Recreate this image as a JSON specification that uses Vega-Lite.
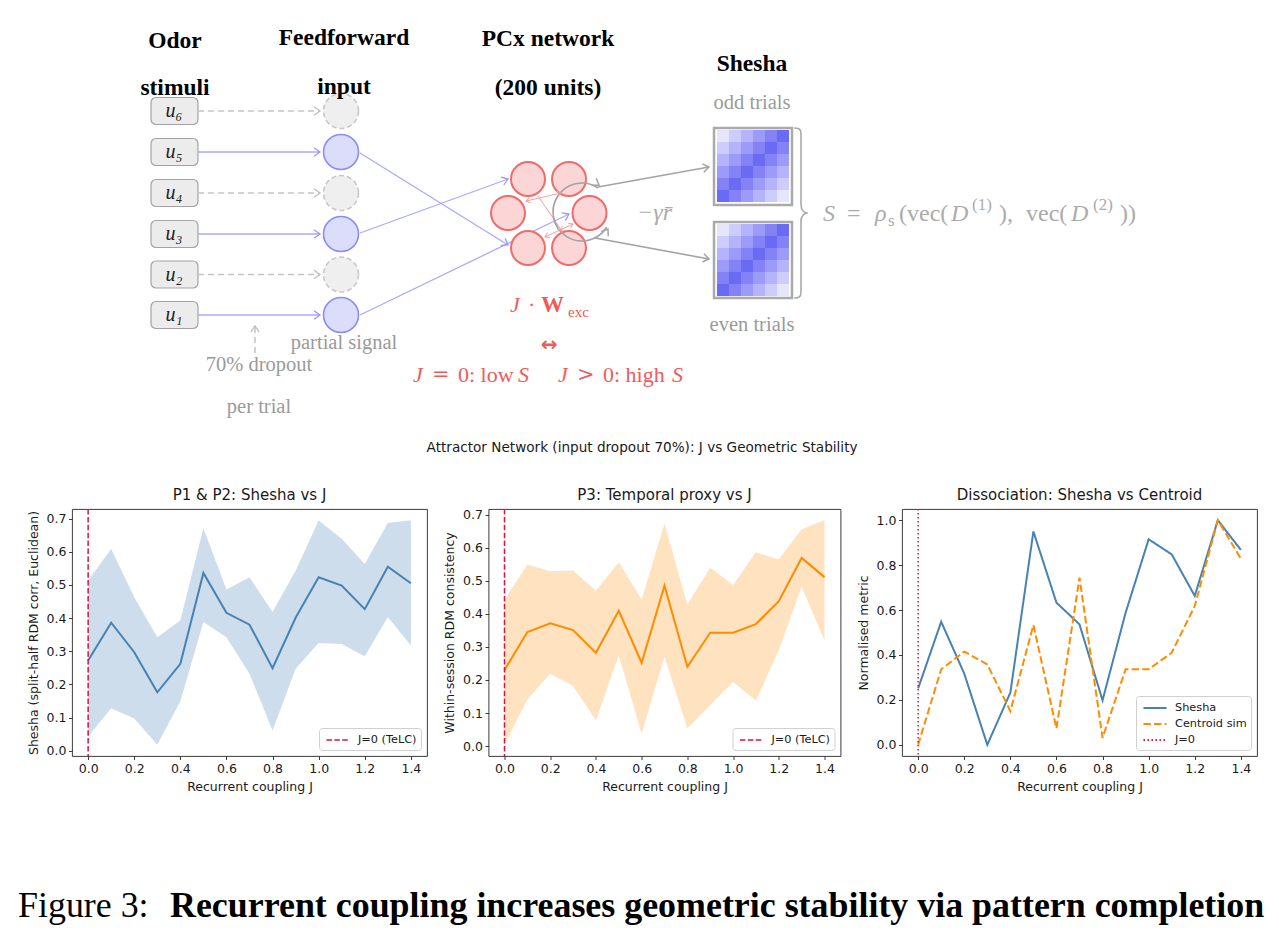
{
"$schema": "https://vega.github.io/schema/vega-lite/v6.json",
"background": "white",
"padding": {"left": 18, "right": 0, "top": 0, "bottom": 0},
"spacing": 0,
"config": {
 "view": {"stroke": "#262626", "strokeWidth": 0.9},
 "axis": {"domain": false, "grid": false, "tickColor": "#262626", "tickSize": 3.5, "tickWidth": 0.9, "labelFont": "DejaVu Sans", "labelFontSize": 12.5, "labelColor": "#1a1a1a", "labelPadding": 2.5, "titleFont": "DejaVu Sans", "titleFontSize": 12.5, "titleFontWeight": "normal", "titleColor": "#1a1a1a"},
 "title": {"font": "DejaVu Sans", "fontSize": 15, "fontWeight": "normal", "color": "#1a1a1a", "offset": 5},
 "legend": {"orient": "bottom-right", "offset": 6, "padding": 4, "fillColor": "white", "strokeColor": "#d0d0d0", "cornerRadius": 3, "symbolType": "M-1.65,0L1.65,0", "symbolSize": 196, "symbolOffset": 7, "symbolStrokeWidth": 2, "labelFont": "DejaVu Sans", "labelFontSize": 11.3, "labelColor": "#1a1a1a", "rowPadding": 2, "labelOffset": 12}
},
"vconcat": [
{
 "width": 1193, "height": 441,
 "view": {"stroke": null},
 "encoding": {
  "x": {"field": "x", "type": "quantitative", "scale": {"domain": [72, 1265], "nice": false, "zero": false}, "axis": null},
  "y": {"field": "y", "type": "quantitative", "scale": {"domain": [0, 441], "nice": false, "zero": false, "reverse": true}, "axis": null}
 },
 "layer": [
  {"data": {"values": [
    {"x": 151, "x2": 198, "y": 97.5, "y2": 124.5},
    {"x": 151, "x2": 198, "y": 138.5, "y2": 165.5},
    {"x": 151, "x2": 198, "y": 179.5, "y2": 206.5},
    {"x": 151, "x2": 198, "y": 220.5, "y2": 247.5},
    {"x": 151, "x2": 198, "y": 261, "y2": 288},
    {"x": 151, "x2": 198, "y": 301.5, "y2": 328.5}]},
   "mark": {"type": "rect", "cornerRadius": 5, "fill": "#ececec", "stroke": "#a3a3a3", "strokeWidth": 1.2},
   "encoding": {"x2": {"field": "x2"}, "y2": {"field": "y2"}}},
  {"data": {"values": [
    {"x": 198, "y": 111, "x2": 320, "y2": 111},
    {"x": 198, "y": 193, "x2": 320, "y2": 193},
    {"x": 198, "y": 274.5, "x2": 320, "y2": 274.5},
    {"x": 255, "y": 353, "x2": 255, "y2": 327}]},
   "mark": {"type": "rule", "color": "#c4c4c4", "strokeWidth": 1.5, "strokeDash": [6, 4]},
   "encoding": {"x2": {"field": "x2"}, "y2": {"field": "y2"}}},
  {"data": {"values": [
    {"x": 198, "y": 152, "x2": 320, "y2": 152},
    {"x": 198, "y": 234, "x2": 320, "y2": 234},
    {"x": 198, "y": 315, "x2": 320, "y2": 315},
    {"x": 360, "y": 153, "x2": 508, "y2": 245},
    {"x": 360, "y": 233, "x2": 508, "y2": 179},
    {"x": 360, "y": 315, "x2": 569, "y2": 214}]},
   "mark": {"type": "rule", "color": "#aaaaf8", "strokeWidth": 1.3},
   "encoding": {"x2": {"field": "x2"}, "y2": {"field": "y2"}}},
  {"data": {"values": [
    {"x": 598, "y": 187, "x2": 709, "y2": 167},
    {"x": 595, "y": 238, "x2": 709, "y2": 259}]},
   "mark": {"type": "rule", "color": "#a3a3a3", "strokeWidth": 1.6},
   "encoding": {"x2": {"field": "x2"}, "y2": {"field": "y2"}}},
  {"data": {"values": [
    {"x": 341, "y": 111}, {"x": 341, "y": 193}, {"x": 341, "y": 274.5}]},
   "mark": {"type": "point", "shape": "circle", "size": 1225, "filled": true, "fill": "#efefef", "stroke": "#c8c8c8", "strokeWidth": 1.6, "strokeDash": [5, 3], "opacity": 1}},
  {"data": {"values": [
    {"x": 341, "y": 152}, {"x": 341, "y": 234}, {"x": 341, "y": 315}]},
   "mark": {"type": "point", "shape": "circle", "size": 1225, "filled": true, "fill": "#dcdcfb", "stroke": "#8c8cf5", "strokeWidth": 1.6, "opacity": 1}},
  {"data": {"values": [
    {"x": 528, "y": 179}, {"x": 569, "y": 179}, {"x": 508, "y": 213},
    {"x": 589.5, "y": 213}, {"x": 528, "y": 248}, {"x": 569, "y": 248}]},
   "mark": {"type": "point", "shape": "circle", "size": 1156, "filled": true, "fill": "#fcd6d6", "stroke": "#f26b6b", "strokeWidth": 2, "opacity": 1}},
  {"data": {"values": [
    {"x": 526, "y": 201, "x2": 561, "y2": 193},
    {"x": 538, "y": 196, "x2": 562, "y2": 231},
    {"x": 545, "y": 237, "x2": 573, "y2": 224}]},
   "mark": {"type": "rule", "color": "#f3a0a0", "strokeWidth": 1},
   "encoding": {"x2": {"field": "x2"}, "y2": {"field": "y2"}}},
  {"data": {"values": [{"x": 582, "y": 212, "t0": 2.147, "t1": 6.842}]},
   "mark": {"type": "arc", "radius": 29, "radius2": 28.9, "filled": false, "color": "#a3a3a3", "strokeWidth": 1.6},
   "encoding": {"theta": {"field": "t0", "type": "quantitative", "scale": null}, "theta2": {"field": "t1"}}},
  {"data": {"values": [
    {"x": 320, "y": 152, "a": 0}, {"x": 320, "y": 234, "a": 0}, {"x": 320, "y": 315, "a": 0},
    {"x": 508, "y": 245, "a": 31.9}, {"x": 508, "y": 179, "a": -20}, {"x": 569, "y": 214, "a": -25.8}]},
   "mark": {"type": "point", "shape": "M-1,-0.7L0,0L-1,0.7", "size": 144, "filled": false, "stroke": "#9a9af5", "strokeWidth": 1.3, "opacity": 1},
   "encoding": {"angle": {"field": "a", "type": "quantitative", "scale": null}}},
  {"data": {"values": [
    {"x": 320, "y": 111, "a": 0}, {"x": 320, "y": 193, "a": 0}, {"x": 320, "y": 274.5, "a": 0}, {"x": 255, "y": 326, "a": -90}]},
   "mark": {"type": "point", "shape": "M-1,-0.7L0,0L-1,0.7", "size": 144, "filled": false, "stroke": "#bdbdbd", "strokeWidth": 1.3, "opacity": 1},
   "encoding": {"angle": {"field": "a", "type": "quantitative", "scale": null}}},
  {"data": {"values": [
    {"x": 709, "y": 167, "a": -10.2}, {"x": 709, "y": 259, "a": 10.4}, {"x": 599, "y": 185, "a": 32}, {"x": 608, "y": 229, "a": -57}]},
   "mark": {"type": "point", "shape": "M-1,-0.7L0,0L-1,0.7", "size": 144, "filled": false, "stroke": "#a3a3a3", "strokeWidth": 1.5, "opacity": 1},
   "encoding": {"angle": {"field": "a", "type": "quantitative", "scale": null}}},
  {"data": {"values": [
    {"x": 561, "y": 193, "a": -12.9}, {"x": 526, "y": 201, "a": 167.1}, {"x": 562, "y": 231, "a": 55.6}, {"x": 573, "y": 224, "a": -24.9}, {"x": 545, "y": 237, "a": 155.1}]},
   "mark": {"type": "point", "shape": "M-1,-0.7L0,0L-1,0.7", "size": 64, "filled": false, "stroke": "#f3a0a0", "strokeWidth": 1, "opacity": 1},
   "encoding": {"angle": {"field": "a", "type": "quantitative", "scale": null}}},
  {"data": {"values": [
    {"x": 714, "x2": 792, "y": 128, "y2": 205},
    {"x": 714, "x2": 792, "y": 222, "y2": 298}]},
   "mark": {"type": "rect", "filled": false, "stroke": "#aaaaaa", "strokeWidth": 2.5},
   "encoding": {"x2": {"field": "x2"}, "y2": {"field": "y2"}}},
  {"data": {"name": "cells"},
   "mark": {"type": "point", "shape": "square", "size": 146, "filled": true, "strokeWidth": 0, "opacity": 1},
   "encoding": {"y": {"field": "yo", "type": "quantitative", "scale": {"domain": [0, 441], "nice": false, "zero": false, "reverse": true}, "axis": null},
     "color": {"field": "v", "type": "quantitative", "scale": {"domain": [0, 5], "range": ["#e6e6fb", "#6a6af2"]}, "legend": null}}},
  {"data": {"name": "cells"},
   "mark": {"type": "point", "shape": "square", "size": 146, "filled": true, "strokeWidth": 0, "opacity": 1},
   "encoding": {"y": {"field": "ye", "type": "quantitative", "scale": {"domain": [0, 441], "nice": false, "zero": false, "reverse": true}, "axis": null},
     "color": {"field": "v", "type": "quantitative", "scale": {"domain": [0, 5], "range": ["#e6e6fb", "#6a6af2"]}, "legend": null}}},
  {"data": {"values": [{"x": 801, "y": 213}]},
   "mark": {"type": "point", "shape": "M-0.08,-1C0,-1 0,-0.97 0,-0.9L0,-0.1C0,-0.03 0.04,0 0.08,0C0.04,0 0,0.03 0,0.1L0,0.9C0,0.97 0,1 -0.08,1", "size": 28900, "filled": false, "stroke": "#aaaaaa", "strokeWidth": 1.6, "opacity": 1}},
  {"data": {"values": [
    {"x": 175, "y": 41, "t": "Odor"}, {"x": 175, "y": 88, "t": "stimuli"},
    {"x": 344, "y": 38, "t": "Feedforward"}, {"x": 344, "y": 87, "t": "input"},
    {"x": 548, "y": 39, "t": "PCx network"}, {"x": 548, "y": 88, "t": "(200 units)"},
    {"x": 752, "y": 64, "t": "Shesha"}]},
   "mark": {"type": "text", "font": "Liberation Serif", "fontSize": 23.5, "fontWeight": "bold", "color": "#000000", "align": "center", "baseline": "middle"},
   "encoding": {"text": {"field": "t"}}},
  {"data": {"values": [
    {"x": 752, "y": 103, "t": "odd trials"}, {"x": 752, "y": 325, "t": "even trials"},
    {"x": 344, "y": 343, "t": "partial signal"}, {"x": 259, "y": 365, "t": "70% dropout"},
    {"x": 259, "y": 407, "t": "per trial"}]},
   "mark": {"type": "text", "font": "Liberation Serif", "fontSize": 20.5, "color": "#9a9a9a", "align": "center", "baseline": "middle"},
   "encoding": {"text": {"field": "t"}}},
  {"data": {"values": [
    {"x": 174, "y": 111, "t": "u₆"}, {"x": 174, "y": 152, "t": "u₅"}, {"x": 174, "y": 193, "t": "u₄"},
    {"x": 174, "y": 234, "t": "u₃"}, {"x": 174, "y": 274.5, "t": "u₂"}, {"x": 174, "y": 315, "t": "u₁"}]},
   "mark": {"type": "text", "font": "Liberation Serif", "fontSize": 20, "fontStyle": "italic", "color": "#222222", "align": "center", "baseline": "middle"},
   "encoding": {"text": {"field": "t"}}},
  {"data": {"values": [
    {"x": 413, "y": 375, "t": "J"}, {"x": 518, "y": 375, "t": "S"}, {"x": 558, "y": 375, "t": "J"},
    {"x": 672, "y": 375, "t": "S"}, {"x": 510, "y": 305, "t": "J"}]},
   "mark": {"type": "text", "font": "Liberation Serif", "fontSize": 22, "fontStyle": "italic", "color": "#f05a5a", "align": "left", "baseline": "middle"},
   "encoding": {"text": {"field": "t"}}},
  {"data": {"values": [
    {"x": 458, "y": 375, "t": "0: low"},
    {"x": 603, "y": 375, "t": "0: high"},
    {"x": 528, "y": 305, "t": "·"}]},
   "mark": {"type": "text", "font": "Liberation Serif", "fontSize": 22, "color": "#f05a5a", "align": "left", "baseline": "middle"},
   "encoding": {"text": {"field": "t"}}},
  {"data": {"values": [
    {"x": 432, "y": 375, "t": "="}, {"x": 577, "y": 375, "t": ">"}]},
   "mark": {"type": "text", "font": "DejaVu Serif", "fontSize": 21, "color": "#f05a5a", "align": "left", "baseline": "middle"},
   "encoding": {"text": {"field": "t"}}},
  {"data": {"values": [{"x": 541, "y": 305, "t": "W"}]},
   "mark": {"type": "text", "font": "Liberation Serif", "fontSize": 23, "fontWeight": "bold", "color": "#f05a5a", "align": "left", "baseline": "middle"},
   "encoding": {"text": {"field": "t"}}},
  {"data": {"values": [{"x": 568, "y": 312, "t": "exc"}]},
   "mark": {"type": "text", "font": "Liberation Serif", "fontSize": 15, "color": "#f05a5a", "align": "left", "baseline": "middle"},
   "encoding": {"text": {"field": "t"}}},
  {"data": {"values": [{"x": 549, "y": 345, "t": "↔"}]},
   "mark": {"type": "text", "font": "DejaVu Sans", "fontSize": 20, "fontWeight": "bold", "color": "#f05a5a", "align": "center", "baseline": "middle"},
   "encoding": {"text": {"field": "t"}}},
  {"data": {"values": [
    {"x": 637, "y": 220, "t": "−γr̄"},
    {"x": 823, "y": 221, "t": "S"}, {"x": 875, "y": 221, "t": "ρ"},
    {"x": 951, "y": 221, "t": "D"}, {"x": 1071, "y": 221, "t": "D"}]},
   "mark": {"type": "text", "font": "Liberation Serif", "fontSize": 24, "fontStyle": "italic", "color": "#ababab", "align": "left", "baseline": "alphabetic"},
   "encoding": {"text": {"field": "t"}}},
  {"data": {"values": [
    {"x": 847, "y": 221, "t": "="}, {"x": 899, "y": 221, "t": "(vec("},
    {"x": 999, "y": 221, "t": "),"}, {"x": 1026, "y": 221, "t": "vec("},
    {"x": 1120, "y": 221, "t": "))"}]},
   "mark": {"type": "text", "font": "Liberation Serif", "fontSize": 24, "color": "#ababab", "align": "left", "baseline": "alphabetic"},
   "encoding": {"text": {"field": "t"}}},
  {"data": {"values": [
    {"x": 888, "y": 226, "t": "s"}, {"x": 972, "y": 210, "t": "(1)"}, {"x": 1093, "y": 210, "t": "(2)"}]},
   "mark": {"type": "text", "font": "Liberation Serif", "fontSize": 17, "color": "#ababab", "align": "left", "baseline": "alphabetic"},
   "encoding": {"text": {"field": "t"}}}
 ]
},
{
 "title": {"text": "Attractor Network (input dropout 70%): J vs Geometric Stability", "fontSize": 13.6, "fontWeight": "normal", "font": "DejaVu Sans", "color": "#1a1a1a", "anchor": "middle", "frame": "bounds", "offset": 33},
 "spacing": 14.5,
 "resolve": {"scale": {"color": "independent", "strokeDash": "independent"}, "legend": {"color": "independent", "strokeDash": "independent"}},
 "hconcat": [
  {
   "width": 355, "height": 247,
   "title": "P1 & P2: Shesha vs J",
   "data": {"values": [
    {"J": 0.0, "mean": 0.272, "lo": 0.043, "hi": 0.513},
    {"J": 0.1, "mean": 0.386, "lo": 0.128, "hi": 0.608},
    {"J": 0.2, "mean": 0.297, "lo": 0.097, "hi": 0.463},
    {"J": 0.3, "mean": 0.176, "lo": 0.018, "hi": 0.342},
    {"J": 0.4, "mean": 0.262, "lo": 0.149, "hi": 0.393},
    {"J": 0.5, "mean": 0.536, "lo": 0.388, "hi": 0.671},
    {"J": 0.6, "mean": 0.416, "lo": 0.342, "hi": 0.486},
    {"J": 0.7, "mean": 0.380, "lo": 0.232, "hi": 0.523},
    {"J": 0.8, "mean": 0.249, "lo": 0.061, "hi": 0.418},
    {"J": 0.9, "mean": 0.401, "lo": 0.247, "hi": 0.543},
    {"J": 1.0, "mean": 0.523, "lo": 0.325, "hi": 0.694},
    {"J": 1.1, "mean": 0.498, "lo": 0.322, "hi": 0.639},
    {"J": 1.2, "mean": 0.427, "lo": 0.285, "hi": 0.563},
    {"J": 1.3, "mean": 0.555, "lo": 0.403, "hi": 0.687},
    {"J": 1.4, "mean": 0.505, "lo": 0.317, "hi": 0.695}]},
   "encoding": {"x": {"field": "J", "type": "quantitative", "scale": {"domain": [-0.07, 1.47], "nice": false, "zero": false}, "axis": {"title": "Recurrent coupling J", "values": [0, 0.2, 0.4, 0.6, 0.8, 1.0, 1.2, 1.4], "format": ".1f", "titlePadding": 5.5}}},
   "layer": [
    {"mark": {"type": "area", "color": "#4682b4", "opacity": 0.27},
     "encoding": {"y": {"field": "lo", "type": "quantitative", "scale": {"domain": [-0.016, 0.729], "nice": false, "zero": false}, "axis": {"title": "Shesha (split-half RDM corr, Euclidean)", "values": [0, 0.1, 0.2, 0.3, 0.4, 0.5, 0.6, 0.7], "format": ".1f", "titlePadding": 6}}, "y2": {"field": "hi"}}},
    {"mark": {"type": "line", "color": "#4682b4", "strokeWidth": 2},
     "encoding": {"y": {"field": "mean", "type": "quantitative", "axis": {"title": "Shesha (split-half RDM corr, Euclidean)", "values": [0, 0.1, 0.2, 0.3, 0.4, 0.5, 0.6, 0.7], "format": ".1f", "titlePadding": 6}}}},
    {"data": {"values": [{"J": 0, "lab": "J=0 (TeLC)"}]},
     "mark": {"type": "rule", "strokeWidth": 1.5, "strokeDash": [5.5, 2.4]},
     "encoding": {"color": {"field": "lab", "type": "nominal", "scale": {"range": ["#dc143c"]}, "legend": {"title": null, "symbolDash": [5.5, 2.4], "symbolStrokeWidth": 1.5}}}}
   ]
  },
  {
   "width": 352, "height": 247,
   "title": "P3: Temporal proxy vs J",
   "data": {"values": [
    {"J": 0.0, "mean": 0.230, "lo": 0.004, "hi": 0.442},
    {"J": 0.1, "mean": 0.345, "lo": 0.141, "hi": 0.549},
    {"J": 0.2, "mean": 0.371, "lo": 0.219, "hi": 0.529},
    {"J": 0.3, "mean": 0.351, "lo": 0.182, "hi": 0.531},
    {"J": 0.4, "mean": 0.282, "lo": 0.077, "hi": 0.470},
    {"J": 0.5, "mean": 0.409, "lo": 0.275, "hi": 0.556},
    {"J": 0.6, "mean": 0.252, "lo": 0.037, "hi": 0.443},
    {"J": 0.7, "mean": 0.485, "lo": 0.271, "hi": 0.673},
    {"J": 0.8, "mean": 0.240, "lo": 0.053, "hi": 0.428},
    {"J": 0.9, "mean": 0.343, "lo": 0.124, "hi": 0.539},
    {"J": 1.0, "mean": 0.343, "lo": 0.194, "hi": 0.487},
    {"J": 1.1, "mean": 0.369, "lo": 0.138, "hi": 0.586},
    {"J": 1.2, "mean": 0.438, "lo": 0.290, "hi": 0.564},
    {"J": 1.3, "mean": 0.569, "lo": 0.482, "hi": 0.656},
    {"J": 1.4, "mean": 0.511, "lo": 0.320, "hi": 0.683}]},
   "encoding": {"x": {"field": "J", "type": "quantitative", "scale": {"domain": [-0.07, 1.47], "nice": false, "zero": false}, "axis": {"title": "Recurrent coupling J", "values": [0, 0.2, 0.4, 0.6, 0.8, 1.0, 1.2, 1.4], "format": ".1f", "titlePadding": 5.5}}},
   "layer": [
    {"mark": {"type": "area", "color": "#ff8c00", "opacity": 0.25},
     "encoding": {"y": {"field": "lo", "type": "quantitative", "scale": {"domain": [-0.03, 0.717], "nice": false, "zero": false}, "axis": {"title": "Within-session RDM consistency", "values": [0, 0.1, 0.2, 0.3, 0.4, 0.5, 0.6, 0.7], "format": ".1f", "titlePadding": 6}}, "y2": {"field": "hi"}}},
    {"mark": {"type": "line", "color": "#ff8c00", "strokeWidth": 2},
     "encoding": {"y": {"field": "mean", "type": "quantitative", "axis": {"title": "Within-session RDM consistency", "values": [0, 0.1, 0.2, 0.3, 0.4, 0.5, 0.6, 0.7], "format": ".1f", "titlePadding": 6}}}},
    {"data": {"values": [{"J": 0, "lab": "J=0 (TeLC)"}]},
     "mark": {"type": "rule", "strokeWidth": 1.5, "strokeDash": [5.5, 2.4]},
     "encoding": {"color": {"field": "lab", "type": "nominal", "scale": {"range": ["#dc143c"]}, "legend": {"title": null, "symbolDash": [5.5, 2.4], "symbolStrokeWidth": 1.5}}}}
   ]
  },
  {
   "width": 355, "height": 247,
   "title": "Dissociation: Shesha vs Centroid",
   "encoding": {"x": {"field": "J", "type": "quantitative", "scale": {"domain": [-0.07, 1.47], "nice": false, "zero": false}, "axis": {"title": "Recurrent coupling J", "values": [0, 0.2, 0.4, 0.6, 0.8, 1.0, 1.2, 1.4], "format": ".1f", "titlePadding": 5.5}}},
   "layer": [
    {"data": {"values": [
      {"J": 0.0, "s": "Shesha", "v": 0.251}, {"J": 0.1, "s": "Shesha", "v": 0.548}, {"J": 0.2, "s": "Shesha", "v": 0.317},
      {"J": 0.3, "s": "Shesha", "v": 0.0}, {"J": 0.4, "s": "Shesha", "v": 0.232}, {"J": 0.5, "s": "Shesha", "v": 0.950},
      {"J": 0.6, "s": "Shesha", "v": 0.633}, {"J": 0.7, "s": "Shesha", "v": 0.536}, {"J": 0.8, "s": "Shesha", "v": 0.198},
      {"J": 0.9, "s": "Shesha", "v": 0.588}, {"J": 1.0, "s": "Shesha", "v": 0.915}, {"J": 1.1, "s": "Shesha", "v": 0.848},
      {"J": 1.2, "s": "Shesha", "v": 0.663}, {"J": 1.3, "s": "Shesha", "v": 1.0}, {"J": 1.4, "s": "Shesha", "v": 0.868},
      {"J": 0.0, "s": "Centroid sim", "v": 0.0}, {"J": 0.1, "s": "Centroid sim", "v": 0.336}, {"J": 0.2, "s": "Centroid sim", "v": 0.415},
      {"J": 0.3, "s": "Centroid sim", "v": 0.358}, {"J": 0.4, "s": "Centroid sim", "v": 0.150}, {"J": 0.5, "s": "Centroid sim", "v": 0.533},
      {"J": 0.6, "s": "Centroid sim", "v": 0.073}, {"J": 0.7, "s": "Centroid sim", "v": 0.744}, {"J": 0.8, "s": "Centroid sim", "v": 0.031},
      {"J": 0.9, "s": "Centroid sim", "v": 0.336}, {"J": 1.0, "s": "Centroid sim", "v": 0.336}, {"J": 1.1, "s": "Centroid sim", "v": 0.410},
      {"J": 1.2, "s": "Centroid sim", "v": 0.618}, {"J": 1.3, "s": "Centroid sim", "v": 1.0}, {"J": 1.4, "s": "Centroid sim", "v": 0.829}]},
     "mark": {"type": "line", "strokeWidth": 2},
     "encoding": {
      "y": {"field": "v", "type": "quantitative", "scale": {"domain": [-0.05, 1.05], "nice": false, "zero": false}, "axis": {"title": "Normalised metric", "values": [0, 0.2, 0.4, 0.6, 0.8, 1.0], "format": ".1f", "titlePadding": 6}},
      "color": {"field": "s", "type": "nominal", "scale": {"domain": ["Shesha", "Centroid sim", "J=0"], "range": ["#4682b4", "#ff8c00", "#dc143c"]}, "legend": {"title": null}},
      "strokeDash": {"field": "s", "type": "nominal", "scale": {"domain": ["Shesha", "Centroid sim", "J=0"], "range": [[1, 0], [7.4, 3.2], [1.5, 2.5]]}, "legend": {"title": null}}}},
    {"data": {"values": [{"J": 0, "s": "J=0"}]},
     "mark": {"type": "rule", "strokeWidth": 1.5},
     "encoding": {
      "color": {"field": "s", "type": "nominal", "scale": {"domain": ["Shesha", "Centroid sim", "J=0"], "range": ["#4682b4", "#ff8c00", "#dc143c"]}, "legend": {"title": null}},
      "strokeDash": {"field": "s", "type": "nominal", "scale": {"domain": ["Shesha", "Centroid sim", "J=0"], "range": [[1, 0], [7.4, 3.2], [1.5, 2.5]]}, "legend": {"title": null}}}}
   ]
  }
 ]
},
{
 "width": 1193, "height": 150,
 "view": {"stroke": null},
 "encoding": {
  "x": {"field": "x", "type": "quantitative", "scale": {"domain": [72, 1265], "nice": false, "zero": false}, "axis": null},
  "y": {"field": "y", "type": "quantitative", "scale": {"domain": [0, 150], "nice": false, "zero": false, "reverse": true}, "axis": null}
 },
 "layer": [
  {"data": {"values": [{"x": 18, "y": 124, "t": "Figure 3:"}]},
   "mark": {"type": "text", "font": "Liberation Serif", "fontSize": 35.9, "color": "#000000", "align": "left", "baseline": "alphabetic"},
   "encoding": {"text": {"field": "t"}}},
  {"data": {"values": [{"x": 170, "y": 124, "t": "Recurrent coupling increases geometric stability via pattern completion"}]},
   "mark": {"type": "text", "font": "Liberation Serif", "fontSize": 35.9, "fontWeight": "bold", "color": "#000000", "align": "left", "baseline": "alphabetic"},
   "encoding": {"text": {"field": "t"}}}
 ]
}
],
"datasets": {
 "cells": [
  {"x": 723, "yo": 136, "ye": 230, "v": 0}, {"x": 735, "yo": 136, "ye": 230, "v": 1}, {"x": 747, "yo": 136, "ye": 230, "v": 2}, {"x": 759, "yo": 136, "ye": 230, "v": 3}, {"x": 771, "yo": 136, "ye": 230, "v": 4}, {"x": 783, "yo": 136, "ye": 230, "v": 5},
  {"x": 723, "yo": 148, "ye": 242, "v": 1}, {"x": 735, "yo": 148, "ye": 242, "v": 2}, {"x": 747, "yo": 148, "ye": 242, "v": 3}, {"x": 759, "yo": 148, "ye": 242, "v": 4}, {"x": 771, "yo": 148, "ye": 242, "v": 5}, {"x": 783, "yo": 148, "ye": 242, "v": 4},
  {"x": 723, "yo": 160, "ye": 254, "v": 2}, {"x": 735, "yo": 160, "ye": 254, "v": 3}, {"x": 747, "yo": 160, "ye": 254, "v": 4}, {"x": 759, "yo": 160, "ye": 254, "v": 5}, {"x": 771, "yo": 160, "ye": 254, "v": 4}, {"x": 783, "yo": 160, "ye": 254, "v": 3},
  {"x": 723, "yo": 172, "ye": 266, "v": 3}, {"x": 735, "yo": 172, "ye": 266, "v": 4}, {"x": 747, "yo": 172, "ye": 266, "v": 5}, {"x": 759, "yo": 172, "ye": 266, "v": 4}, {"x": 771, "yo": 172, "ye": 266, "v": 3}, {"x": 783, "yo": 172, "ye": 266, "v": 2},
  {"x": 723, "yo": 184, "ye": 278, "v": 4}, {"x": 735, "yo": 184, "ye": 278, "v": 5}, {"x": 747, "yo": 184, "ye": 278, "v": 4}, {"x": 759, "yo": 184, "ye": 278, "v": 3}, {"x": 771, "yo": 184, "ye": 278, "v": 2}, {"x": 783, "yo": 184, "ye": 278, "v": 1},
  {"x": 723, "yo": 196, "ye": 290, "v": 5}, {"x": 735, "yo": 196, "ye": 290, "v": 4}, {"x": 747, "yo": 196, "ye": 290, "v": 3}, {"x": 759, "yo": 196, "ye": 290, "v": 2}, {"x": 771, "yo": 196, "ye": 290, "v": 1}, {"x": 783, "yo": 196, "ye": 290, "v": 0}
 ]
}
}
